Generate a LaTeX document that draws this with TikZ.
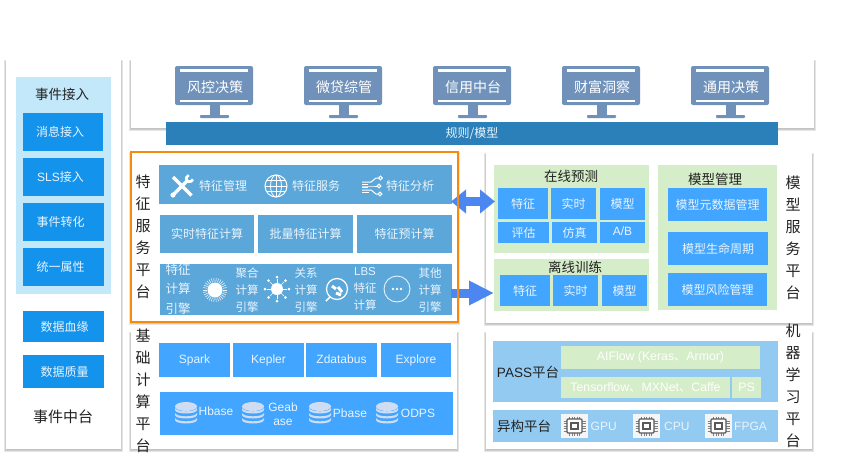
\documentclass[tikz,border=0pt]{standalone}
\usepackage{fontspec}
\setmainfont{Noto Sans CJK SC}
\newfontfamily\lat{Liberation Sans}
\usetikzlibrary{arrows.meta}
\definecolor{evblue}{HTML}{1493EC}
\definecolor{evlight}{HTML}{C3E8FA}
\definecolor{monblue}{HTML}{7092BA}
\definecolor{barblue}{HTML}{2B80BA}
\definecolor{featblue}{HTML}{5BA7DA}
\definecolor{skyblue}{HTML}{42A5FF}
\definecolor{pale}{HTML}{D5EDC8}
\definecolor{mlblue}{HTML}{92CAF2}
\definecolor{flow}{HTML}{4C86F0}
\definecolor{orangeb}{HTML}{F58A0B}
\definecolor{lab}{HTML}{E9F4FD}
\definecolor{ink}{HTML}{222222}
\definecolor{dbfill}{HTML}{CFDDF3}
\newcommand{\fs}[2]{\fontsize{#1}{#2}\selectfont}
\newcommand{\cjkdun}{{\rmfamily 、}}
\newcommand{\bx}[7]{%
  \pgfmathsetmacro{\bw}{#4-#2}\pgfmathsetmacro{\bh}{#5-#3}%
  \pgfmathsetmacro{\bcx}{(#2+#4)/2}\pgfmathsetmacro{\bcy}{(#3+#5)/2}%
  \node[#6,minimum width=\bw pt,minimum height=\bh pt] (#1) at (\bcx,\bcy) {#7};}
\newcommand{\softshadow}[4]{%
  \foreach \i in {1,...,5}{
    \fill[black,opacity=.05] (#1-\i*.45,#2-\i*.3+1.5) rectangle (#3+\i*.45,#4+\i*.6+.3);}}
\newcommand{\monitor}[3]{%
  \begin{scope}[shift={(#1,66)}]
    \fill[monblue,rounded corners=2pt] (0,0) rectangle (78,39);
    \fill[white] (5,3.2) rectangle (73,5.6);
    \fill[white] (5,33.5) rectangle (73,35.7);
    \fill[monblue] (35,39) rectangle (45,49);
    \fill[monblue,rounded corners=.8pt] (25,49) rectangle (54,52);
    \node[monlabel] (#2) at (40,21) {#3};
  \end{scope}}
\newcommand{\dbicon}[2]{%
  \begin{scope}[shift={(#1,#2)}]
    \foreach \yy in {8,3,-2}{
      \fill[dbfill] (-11,\yy-3.2) -- (-11,\yy-1) arc[x radius=11,y radius=3.5,start angle=180,end angle=0] -- (11,\yy-3.2) arc[x radius=11,y radius=3.5,start angle=0,end angle=180] -- cycle;}
    \fill[dbfill] (0,-6.5) ellipse[x radius=11,y radius=4.5];
  \end{scope}}
\newcommand{\chip}[3]{%
  \begin{scope}[shift={(#1,414)}]
    \fill[white!92!gray] (0,0) rectangle (27,24);
    \foreach \a in {8,10.5,13,15.5,18}{
      \draw[gray,line width=.8pt] (\a+.5,2.5) -- (\a+.5,6) (\a+.5,18) -- (\a+.5,21.5);
      \draw[gray,line width=.8pt] (2.5,\a-1) -- (6,\a-1) (21,\a-1) -- (24.5,\a-1);}
    \draw[gray!70!black,line width=1.2pt,rounded corners=1pt,fill=white] (6,5) rectangle (21,19);
    \draw[gray!70!black,line width=1.1pt] (10,9) rectangle (17,15);
    \node[inner sep=0,text=lab,font=\lat\fs{12}{14},anchor=west] (#2) at (#3,12) {\csname chiptext#2\endcsname};
  \end{scope}}
\newcommand{\chiptextgpu}{GPU}
\newcommand{\chiptextcpu}{CPU}
\newcommand{\chiptextfpga}{FPGA}
\newcommand{\lft}{\hspace*{-6pt}}
\newcommand{\rgt}{\hspace*{2pt}}
\tikzset{
  x=1pt,y=-1pt,
  panel/.style={fill=white,inner sep=0pt},
  evbox/.style={fill=evblue,text=lab,inner sep=0pt,font=\fs{12}{14}},
  evpale/.style={fill=evlight,inner sep=0pt},
  monlabel/.style={text=white,inner sep=0pt,font=\fs{14}{16}},
  barbox/.style={fill=barblue,text=lab,inner sep=0pt,font=\fs{12}{14}},
  featbox/.style={fill=featblue,text=lab,inner sep=0pt,font=\fs{12}{14}},
  skybox/.style={fill=skyblue,text=lab,inner sep=0pt,font=\fs{12}{14}},
  latbox/.style={skybox,font=\lat\fs{12}{14},text height=8.6pt,text depth=2.4pt},
  palebox/.style={fill=pale,inner sep=0pt},
  paletext/.style={palebox,text=white,font=\lat\fs{12.3}{14}},
  mlbox/.style={fill=mlblue,inner sep=0pt},
  plain/.style={inner sep=0pt,text=lab,font=\fs{12}{14}},
  small/.style={inner sep=0pt,text=lab,align=center,font=\fs{11.5}{17}},
  title/.style={inner sep=0pt,text=ink,font=\fs{13.5}{16}},
  vert/.style={inner sep=0pt,text=ink,align=center,font=\fs{15}{22}},
  latlab/.style={inner sep=0pt,text=lab,align=center,font=\lat\fs{12}{14},text height=8.6pt,text depth=2.4pt},
  flowline/.style={flow,line width=9pt},
}
\begin{document}
\begin{tikzpicture}
\useasboundingbox (0,0) rectangle (855,461);
\fill[white] (0,0) rectangle (855,461);
% shadows
\softshadow{6}{60}{121}{449}
\softshadow{131}{60}{814}{128}
\softshadow{131}{152}{458}{322}
\softshadow{131}{332}{457}{449}
\softshadow{486}{153}{812}{323}
\softshadow{486}{332}{812}{449}
% left panel
\bx{evt}{6}{60}{121}{449}{panel}{}
\bx{evin}{16}{77}{111}{294}{evpale}{}
\node[title] (evtitle) at (62,94) {事件接入};
\bx{ev1}{23}{113}{103}{151}{evbox}{\lft 消息接入}
\bx{ev2}{23}{158}{104}{196}{evbox}{\lft{\lat SLS}接入}
\bx{ev3}{23}{203}{104}{241}{evbox}{\lft 事件转化}
\bx{ev4}{23}{248}{104}{286}{evbox}{\lft 统一属性}
\bx{ev5}{23}{311}{104}{342}{evbox}{\rgt 数据血缘}
\bx{ev6}{23}{355}{104}{388}{evbox}{\rgt 数据质量}
\node[title,font=\fs{15}{18}] (evname) at (63,417) {事件中台};
% top panel
\bx{top}{131}{60}{814}{128}{panel}{}
\monitor{175}{m1}{风控决策}
\monitor{304}{m2}{微贷综管}
\monitor{433}{m3}{信用中台}
\monitor{562}{m4}{财富洞察}
\monitor{691}{m5}{通用决策}
\bx{bar}{166}{122}{778}{145}{barbox}{规则/模型}
% feature panel
\bx{feat}{131}{152}{458}{322}{panel}{}
\node[vert] (feattxt) at (143,237) {特\\征\\服\\务\\平\\台};
\bx{row1}{159}{165}{452}{204}{featbox}{}
\node[plain] (f1) at (223,186) {特征管理};
\node[plain] (f2) at (316,186) {特征服务};
\node[plain] (f3) at (410,186) {特征分析};
% wrench + screwdriver
\begin{scope}[shift={(182,186)}]
  \draw[white,line width=3.4pt] (-9,-9) -- (9.5,9.5);
  \draw[white,line width=3.4pt] (5.5,-5.5) -- (-8,8);
  \fill[white] (-9,9) circle[radius=2.6];
  \draw[white,line width=2.6pt] (7.6,-7.6) ++(15:3.4) arc[start angle=15,end angle=255,radius=3.4];
\end{scope}
% globe
\begin{scope}[shift={(276,186)}]
  \draw[white,line width=1pt] (0,0) circle[radius=11];
  \draw[white,line width=.8pt] (0,0) ellipse[x radius=5.5,y radius=11];
  \draw[white,line width=.8pt] (0,-11) -- (0,11) (-11,0) -- (11,0);
  \draw[white,line width=.8pt] (-9.5,-5.5) -- (9.5,-5.5) (-9.5,5.5) -- (9.5,5.5);
\end{scope}
% analysis
\begin{scope}[shift={(372,186)}]
  \draw[white,line width=1pt] (-10,-4) -- (-1,-4) -- (4,-8) -- (7,-8);
  \draw[white,line width=1pt] (-10,0) -- (1,0) -- (5,0);
  \draw[white,line width=1pt] (-10,4) -- (-1,4) -- (4,8) -- (6,8);
  \draw[white,line width=1pt] (-10,-1.5) -- (-4,-1.5) (-10,1.8) -- (-4,1.8) (-10,6.5) -- (-3,6.5);
  \draw[white,line width=1pt] (8.5,-8) circle[radius=1.8] (7,0) circle[radius=1.8] (8,8) circle[radius=1.8];
\end{scope}
\bx{r21}{160}{215}{254}{253}{featbox}{实时特征计算}
\bx{r22}{258}{215}{353}{253}{featbox}{批量特征计算}
\bx{r23}{357}{215}{452}{253}{featbox}{特征预计算}
\bx{row3}{160}{264}{452}{315}{featbox}{}
\node[inner sep=0,text=lab,align=center,font=\fs{12.5}{19.5}] (e1) at (178,289) {特征\\计算\\引擎};
\node[small] (e2) at (247,290) {聚合\\计算\\引擎};
\node[small] (e3) at (306,290) {关系\\计算\\引擎};
\node[small] (e4) at (365,289) {{\lat LBS}\\特征\\计算};
\node[small] (e5) at (430,290) {其他\\计算\\引擎};
% sun icon
\begin{scope}[shift={(215,290)}]
  \foreach \a in {0,12,...,348}{\draw[white!85!featblue,line width=.6pt] (\a:8) -- (\a:12);}
  \fill[white] (0,0) circle[radius=7.5];
\end{scope}
% network icon
\begin{scope}[shift={(277,289)}]
  \foreach \a in {0,45,...,315}{
    \draw[white,line width=.6pt] (0,0) -- (\a:10);
    \fill[white] (\a:12) circle[radius=1.5];}
  \fill[white] (0,0) circle[radius=6];
\end{scope}
% magnifier icon
\begin{scope}[shift={(337,289)}]
  \draw[white,line width=1.2pt] (0,0) circle[radius=10.5];
  \draw[white,line width=1.6pt] (-7,8) -- (-11,12);
  \draw[white,line width=3pt] (-5,-3) -- (-1,0) (1,-2) -- (5,3) (-1,4) -- (4,6);
\end{scope}
% dots icon
\begin{scope}[shift={(397,289)}]
  \draw[white!85!featblue,line width=.9pt] (0,0) circle[radius=13];
  \foreach \xx in {-4,0,4}{\fill[white] (\xx,0) circle[radius=1.4];}
\end{scope}
% base panel
\bx{base}{131}{332}{457}{449}{panel}{}
\bx{b1}{159}{343}{230}{377}{latbox}{Spark}
\bx{b2}{233}{343}{304}{377}{latbox}{Kepler}
\bx{b3}{306}{343}{377}{377}{latbox}{Zdatabus}
\bx{b4}{381}{343}{451}{377}{latbox}{Explore}
\bx{b5}{160}{392}{453}{435}{skybox}{}
\dbicon{186}{413}
\dbicon{253}{413}
\dbicon{320}{413}
\dbicon{387}{413}
\node[latlab] (d1) at (216,412) {Hbase};
\node[inner sep=0pt,text=lab,align=center,font=\lat\fs{12}{14}] (d2) at (283,414) {Geab\\ase};
\node[latlab] (d3) at (350,414) {Pbase};
\node[latlab] (d4) at (418,414) {ODPS};
\node[vert] (basetxt) at (143,391) {基\\础\\计\\算\\平\\台};
% model panel
\bx{model}{486}{153}{812}{323}{panel}{}
\bx{on}{494}{165}{649}{253}{palebox}{}
\bx{off}{494}{259}{649}{311}{palebox}{}
\bx{mg}{658}{165}{777}{310}{palebox}{}
\node[title] (ont) at (571,176) {在线预测};
\node[title] (offt) at (575,267) {离线训练};
\node[title] (mgt) at (715,179) {模型管理};
\bx{o1}{498}{188}{548}{219}{skybox}{特征}
\bx{o2}{551}{188}{596}{219}{skybox}{实时}
\bx{o3}{600}{188}{645}{220}{skybox}{模型}
\bx{o4}{498}{222}{549}{243}{skybox}{评估}
\bx{o5}{552}{222}{597}{243}{skybox}{仿真}
\bx{o6}{600}{222}{645}{243}{latbox}{A/B}
\bx{t1}{500}{275}{550}{306}{skybox}{特征}
\bx{t2}{553}{275}{598}{306}{skybox}{实时}
\bx{t3}{602}{275}{647}{306}{skybox}{模型}
\bx{g1}{668}{188}{767}{221}{skybox}{模型元数据管理}
\bx{g2}{668}{232}{768}{265}{skybox}{模型生命周期}
\bx{g3}{668}{273}{767}{306}{skybox}{模型风险管理}
\node[vert] (modeltxt) at (793,238) {模\\型\\服\\务\\平\\台};
% ml panel
\bx{ml}{486}{332}{812}{449}{panel}{}
\bx{pass}{493}{341}{778}{402}{mlbox}{}
\bx{het}{493}{410}{778}{442}{mlbox}{}
\bx{p1}{561}{346}{760}{369}{paletext}{AIFlow (Keras\cjkdun Armor)}
\bx{p2}{561}{377}{730}{398}{paletext}{Tensorflow\cjkdun MXNet\cjkdun Caffe}
\bx{p3}{732}{377}{761}{398}{paletext}{PS}
\node[title] (passt) at (528,372) {{\lat PASS}平台};
\node[title] (hett) at (524,426) {异构平台};
\chip{561}{gpu}{29.5}
\chip{633}{cpu}{31}
\chip{705}{fpga}{29}
\node[vert] (mltxt) at (793,386) {机\\器\\学\\习\\平\\台};
% flow arrows
\coordinate (da) at (451,201.5);
\coordinate (db) at (495,201.5);
\coordinate (sa) at (451,293);
\coordinate (sb) at (494,293);
\draw[flowline,{Triangle[length=15pt,width=23pt]}-{Triangle[length=15pt,width=23pt]}] (da) -- (db);
\draw[flowline,-{Triangle[length=25pt,width=23pt]}] (sa) -- (sb);
% orange frame on top
\draw[orangeb,line width=1.6pt] (feat.north west) rectangle (feat.south east);
\end{tikzpicture}
\end{document}
